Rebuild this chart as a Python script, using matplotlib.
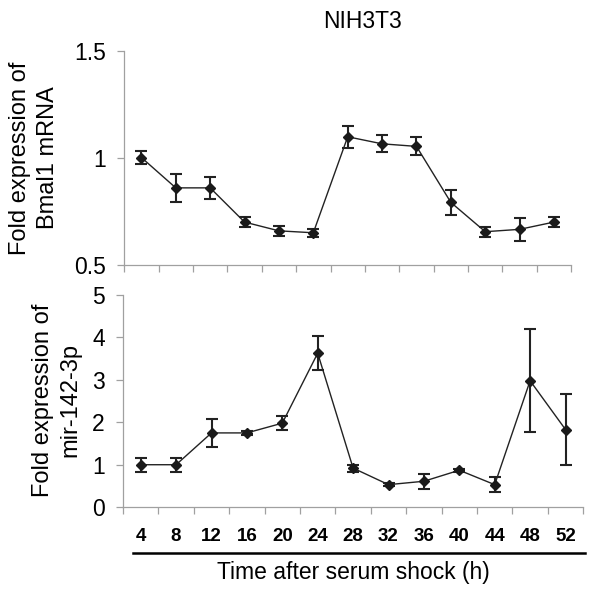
import numpy as np
import matplotlib
matplotlib.use("Agg")
import matplotlib.pyplot as plt
from matplotlib.lines import Line2D

plt.rcParams['font.family'] = ['Liberation Sans', 'DejaVu Sans']

# datos
horas = ['4', '8', '12', '16', '20', '24', '28', '32', '36', '40', '44', '48', '52']
bmal1 = [1.003, 0.861, 0.861, 0.701, 0.660, 0.651, 1.100, 1.067, 1.055, 0.793, 0.656, 0.667, 0.701]
bmal1_err = [0.03, 0.065, 0.05, 0.022, 0.022, 0.018, 0.051, 0.04, 0.042, 0.058, 0.023, 0.054, 0.025]
mir142 = [1.0, 1.0, 1.75, 1.75, 1.98, 3.63, 0.92, 0.53, 0.61, 0.87, 0.53, 2.98, 1.83]
mir142_err = [0.16, 0.16, 0.33, 0.05, 0.16, 0.4, 0.08, 0.03, 0.18, 0.03, 0.17, 1.21, 0.84]

x = np.arange(len(horas))
gris = '#a0a0a0'

fig = plt.figure(figsize=(6, 5.89), dpi=100)
ax1 = fig.add_axes([0.207, 0.550, 0.745, 0.363])
ax2 = fig.add_axes([0.205, 0.139, 0.767, 0.360])

def estilo(ax):
    for s in ['top', 'right']:
        ax.spines[s].set_visible(False)
    for s in ['left', 'bottom']:
        ax.spines[s].set_color(gris)
        ax.spines[s].set_linewidth(0.9)
    ax.set_xlim(-0.5, len(horas) - 0.5)
    ax.set_xticks(np.arange(len(horas) + 1) - 0.5)
    ax.set_xticklabels([])
    ax.tick_params(axis='both', which='major', color=gris, length=5, width=0.9,
                   direction='out', labelsize=16.5, pad=8)

for ax, y, e in [(ax1, bmal1, bmal1_err), (ax2, mir142, mir142_err)]:
    ax.errorbar(x, y, yerr=e, color='#222222', lw=1.0, marker='D', ms=5.5,
                mfc='#1a1a1a', mec='#1a1a1a', ecolor='#222222', elinewidth=1.5,
                capsize=4, capthick=1.5)
    estilo(ax)

ax1.set_ylim(0.5, 1.5)
ax1.set_yticks([0.5, 1, 1.5])
ax1.set_yticklabels(['0.5', '1', '1.5'])

ax2.set_ylim(0, 5)
ax2.set_yticks([0, 1, 2, 3, 4, 5])
ax2.set_xticks(x, horas, minor=True)
ax2.tick_params(axis='x', which='minor', length=0, pad=15, labelsize=13.5)
for t in ax2.get_xticklabels(minor=True):
    t.set_fontweight('bold')

fig.text(362 / 600, 1 - 21 / 589, 'NIH3T3', ha='center', va='center', fontsize=16.5)
fig.text(34 / 600, 1 - 158 / 589, 'Fold expression of\nBmal1 mRNA', rotation=90,
         ha='center', va='center', fontsize=17, multialignment='center', linespacing=1.3)
fig.text(57 / 600, 1 - 400 / 589, 'Fold expression of\nmir-142-3p', rotation=90,
         ha='center', va='center', fontsize=17, multialignment='center', linespacing=1.3)
fig.add_artist(Line2D([133 / 600, 585 / 600], [1 - 553 / 589, 1 - 553 / 589],
                      color='black', lw=1.8))
fig.text(353 / 600, 1 - 572 / 589, 'Time after serum shock (h)', ha='center',
         va='center', fontsize=16.5)

fig.savefig('out.png', dpi=100)
